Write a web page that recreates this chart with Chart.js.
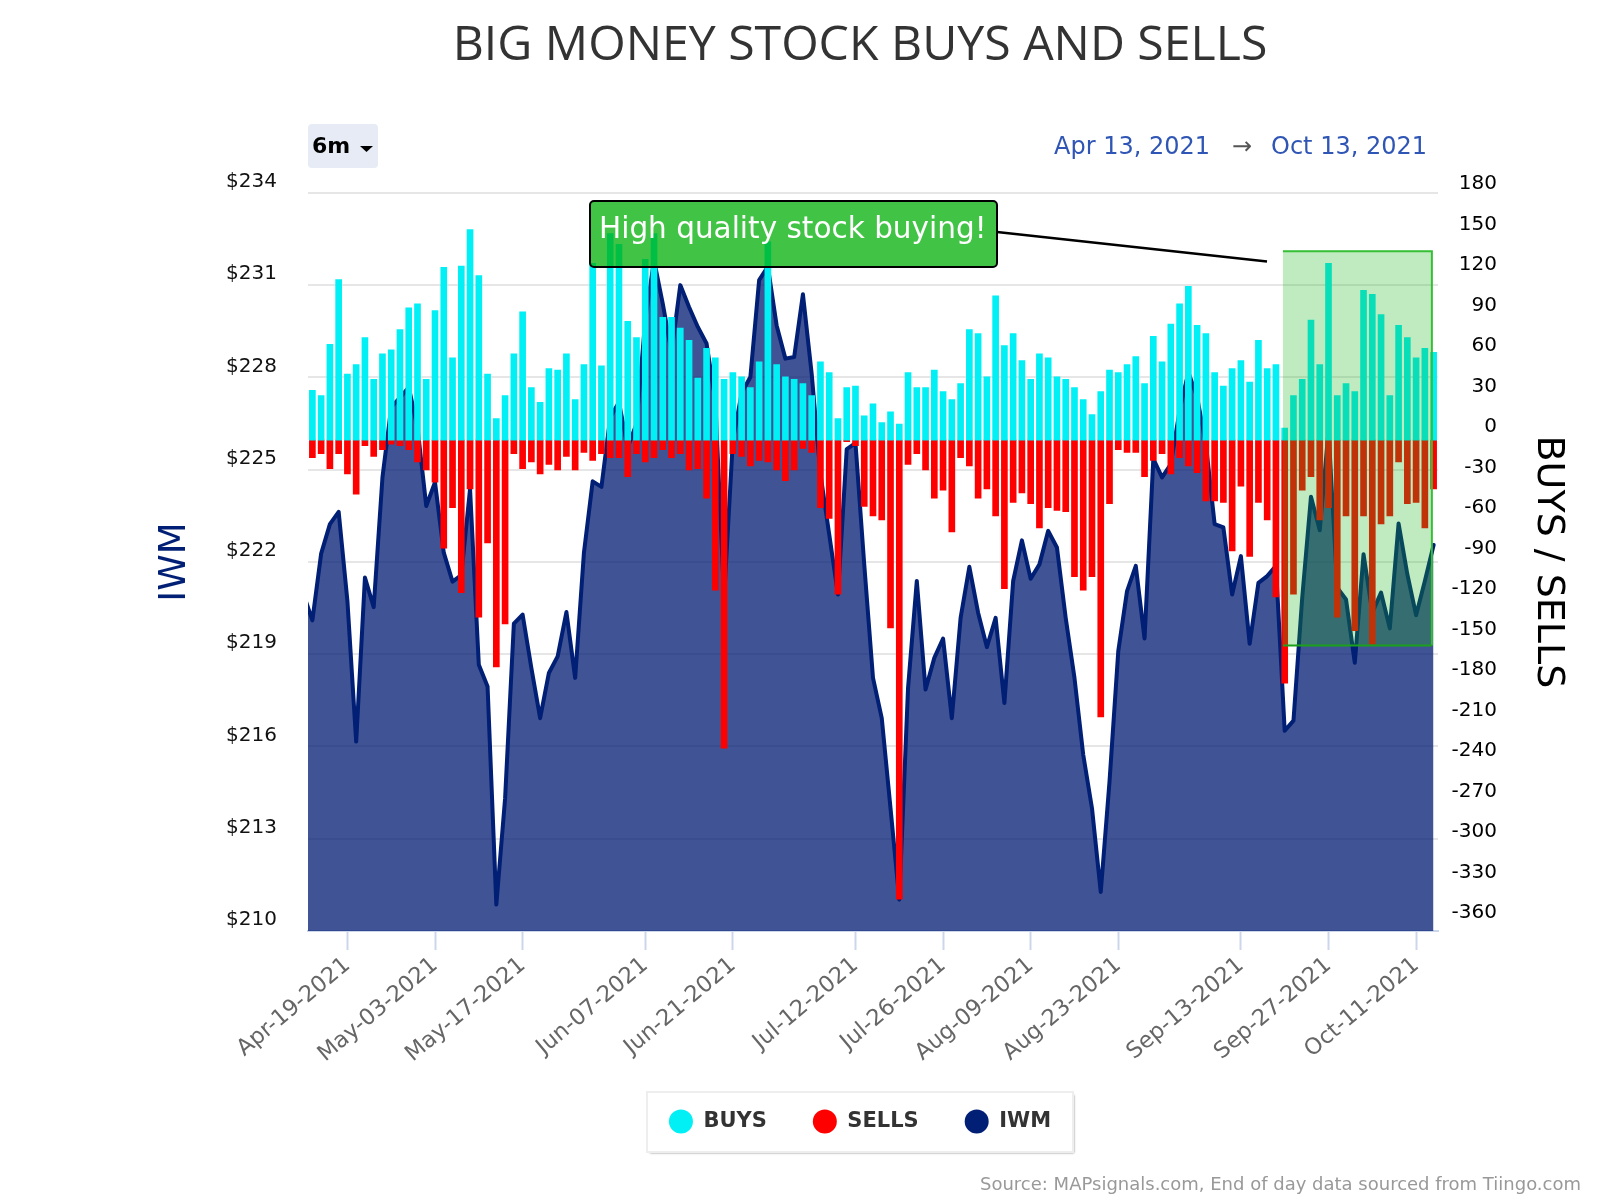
<!DOCTYPE html>
<html lang="en">
<head>
  <meta charset="UTF-8">
  <title>Big Money Stock Buys and Sells</title>
  <script src="https://cdn.jsdelivr.net/npm/chart.js"></script>
  <style>
    html, body { margin: 0; background: #fff; }
    canvas { display: block; }
  </style>
</head>
<body>
<canvas id="moneyChart" width="1600" height="1200"></canvas>

<script>
  // Trading days. Apr-12 sits just left of the visible range so the IWM line runs in from the edge
  const tradingDays = [
    'Apr-12-2021', 'Apr-13-2021', 'Apr-14-2021', 'Apr-15-2021', 'Apr-16-2021', 'Apr-19-2021', 'Apr-20-2021', 'Apr-21-2021', 'Apr-22-2021', 'Apr-23-2021',
    'Apr-26-2021', 'Apr-27-2021', 'Apr-28-2021', 'Apr-29-2021', 'Apr-30-2021', 'May-03-2021', 'May-04-2021', 'May-05-2021', 'May-06-2021', 'May-07-2021',
    'May-10-2021', 'May-11-2021', 'May-12-2021', 'May-13-2021', 'May-14-2021', 'May-17-2021', 'May-18-2021', 'May-19-2021', 'May-20-2021', 'May-21-2021',
    'May-24-2021', 'May-25-2021', 'May-26-2021', 'May-27-2021', 'May-28-2021', 'Jun-01-2021', 'Jun-02-2021', 'Jun-03-2021', 'Jun-04-2021', 'Jun-07-2021',
    'Jun-08-2021', 'Jun-09-2021', 'Jun-10-2021', 'Jun-11-2021', 'Jun-14-2021', 'Jun-15-2021', 'Jun-16-2021', 'Jun-17-2021', 'Jun-18-2021', 'Jun-21-2021',
    'Jun-22-2021', 'Jun-23-2021', 'Jun-24-2021', 'Jun-25-2021', 'Jun-28-2021', 'Jun-29-2021', 'Jun-30-2021', 'Jul-01-2021', 'Jul-02-2021', 'Jul-06-2021',
    'Jul-07-2021', 'Jul-08-2021', 'Jul-09-2021', 'Jul-12-2021', 'Jul-13-2021', 'Jul-14-2021', 'Jul-15-2021', 'Jul-16-2021', 'Jul-19-2021', 'Jul-20-2021',
    'Jul-21-2021', 'Jul-22-2021', 'Jul-23-2021', 'Jul-26-2021', 'Jul-27-2021', 'Jul-28-2021', 'Jul-29-2021', 'Jul-30-2021', 'Aug-02-2021', 'Aug-03-2021',
    'Aug-04-2021', 'Aug-05-2021', 'Aug-06-2021', 'Aug-09-2021', 'Aug-10-2021', 'Aug-11-2021', 'Aug-12-2021', 'Aug-13-2021', 'Aug-16-2021', 'Aug-17-2021',
    'Aug-18-2021', 'Aug-19-2021', 'Aug-20-2021', 'Aug-23-2021', 'Aug-24-2021', 'Aug-25-2021', 'Aug-26-2021', 'Aug-27-2021', 'Aug-30-2021', 'Aug-31-2021',
    'Sep-01-2021', 'Sep-02-2021', 'Sep-03-2021', 'Sep-07-2021', 'Sep-08-2021', 'Sep-09-2021', 'Sep-10-2021', 'Sep-13-2021', 'Sep-14-2021', 'Sep-15-2021',
    'Sep-16-2021', 'Sep-17-2021', 'Sep-20-2021', 'Sep-21-2021', 'Sep-22-2021', 'Sep-23-2021', 'Sep-24-2021', 'Sep-27-2021', 'Sep-28-2021', 'Sep-29-2021',
    'Sep-30-2021', 'Oct-01-2021', 'Oct-04-2021', 'Oct-05-2021', 'Oct-06-2021', 'Oct-07-2021', 'Oct-08-2021', 'Oct-11-2021', 'Oct-12-2021', 'Oct-13-2021'
  ];

  const dateTicks = [
    'Apr-19-2021', 'May-03-2021', 'May-17-2021', 'Jun-07-2021', 'Jun-21-2021', 'Jul-12-2021',
    'Jul-26-2021', 'Aug-09-2021', 'Aug-23-2021', 'Sep-13-2021', 'Sep-27-2021', 'Oct-11-2021'
  ];

  const buys = [
    null, 37, 33, 71, 119, 49, 56, 76, 45, 64,
    67, 82, 98, 101, 45, 96, 128, 61, 129, 156,
    122, 49, 16, 33, 64, 95, 39, 28, 53, 52,
    64, 30, 56, 131, 55, 153, 145, 88, 76, 134,
    153, 91, 91, 83, 74, 46, 68, 61, 45, 50,
    47, 39, 58, 147, 56, 47, 45, 42, 33, 58,
    50, 16, 39, 40, 18, 27, 13, 21, 12, 50,
    39, 39, 52, 36, 30, 42, 82, 79, 47, 107,
    70, 79, 59, 45, 64, 61, 47, 45, 39, 30,
    19, 36, 52, 50, 56, 62, 42, 77, 58, 86,
    101, 114, 85, 79, 50, 40, 53, 59, 43, 74,
    53, 56, 9, 33, 45, 89, 56, 131, 33, 42,
    36, 111, 108, 93, 33, 85, 76, 61, 68, 65
  ];

  const sells = [
    null, -13, -10, -21, -10, -25, -40, -4, -12, -7,
    -3, -4, -7, -16, -22, -31, -80, -50, -113, -36,
    -131, -76, -168, -136, -10, -21, -16, -25, -18, -22,
    -12, -22, -9, -15, -10, -13, -13, -27, -10, -16,
    -13, -7, -13, -10, -22, -21, -43, -111, -228, -10,
    -12, -19, -15, -16, -22, -30, -22, -6, -9, -50,
    -58, -114, -1, -4, -49, -56, -59, -139, -340, -18,
    -10, -22, -43, -37, -68, -13, -19, -43, -36, -56,
    -110, -46, -39, -47, -65, -50, -52, -53, -101, -111,
    -101, -205, -47, -7, -9, -9, -27, -15, -10, -25,
    -13, -19, -24, -45, -45, -46, -82, -34, -86, -46,
    -59, -116, -180, -114, -37, -27, -59, -50, -131, -56,
    -141, -56, -151, -62, -56, -16, -47, -46, -65, -36
  ];

  const iwmCloses = [
    220.94, 220.10, 222.27, 223.23, 223.63, 220.73, 216.16, 221.49, 220.53, 224.75,
    227.03, 227.34, 227.68, 226.38, 223.82, 224.59, 222.30, 221.36, 221.57, 224.37,
    218.66, 217.95, 210.86, 214.31, 219.99, 220.29, 218.55, 216.92, 218.39, 218.93,
    220.37, 218.23, 222.30, 224.62, 224.44, 226.70, 227.19, 225.73, 226.49, 229.86,
    231.81, 230.40, 228.82, 231.00, 230.29, 229.64, 229.10, 227.25, 220.83, 225.94,
    227.49, 228.01, 231.16, 231.60, 229.69, 228.61, 228.66, 230.70, 228.12, 224.86,
    222.90, 220.94, 225.67, 225.86, 221.92, 218.23, 216.92, 213.99, 211.02, 217.90,
    221.38, 217.85, 218.88, 219.51, 216.92, 220.18, 221.84, 220.35, 219.23, 220.18,
    217.41, 221.38, 222.70, 221.45, 221.92, 223.01, 222.47, 220.18, 218.23, 215.73,
    213.99, 211.27, 214.86, 219.10, 221.05, 221.87, 219.51, 225.35, 224.75, 225.18,
    226.92, 228.17, 227.36, 225.84, 223.23, 223.12, 220.94, 222.19, 219.34, 221.32,
    221.54, 221.87, 216.51, 216.84, 220.84, 224.12, 223.03, 226.27, 221.16, 220.78,
    218.72, 222.25, 220.35, 221.00, 219.84, 223.25, 221.60, 220.27, 221.38, 222.55
  ];

  // Everything the library has no element for: legend frame, header, callout, source line
  const overlays = {
    id: 'overlays',
    beforeDraw(chart) {
      const ctx = chart.ctx;
      ctx.save();
      ctx.shadowColor = 'rgba(0,0,0,0.5)';
      ctx.shadowBlur = 2;
      ctx.shadowOffsetX = 2;
      ctx.shadowOffsetY = 2;
      ctx.fillStyle = '#fff';
      ctx.fillRect(648, 1093, 424, 58);
      ctx.restore();
      ctx.strokeStyle = '#eee';
      ctx.lineWidth = 2;
      ctx.strokeRect(647, 1092, 426, 60);

      // range dropdown
      ctx.fillStyle = '#e6ebf5';
      ctx.beginPath();
      ctx.roundRect(308, 124, 70, 44, 4);
      ctx.fill();
      ctx.fillStyle = '#000';
      ctx.font = 'bold 22px "DejaVu Sans"';
      ctx.textAlign = 'left';
      ctx.textBaseline = 'middle';
      ctx.fillText('6m', 312, 147);
      ctx.beginPath();
      ctx.moveTo(360, 146);
      ctx.lineTo(373, 146);
      ctx.lineTo(366.5, 152);
      ctx.fill();

      // date range
      ctx.fillStyle = '#2f55b5';
      ctx.font = '24px "DejaVu Sans"';
      ctx.textAlign = 'right';
      ctx.fillText('Oct 13, 2021', 1427, 148);
      ctx.fillStyle = '#555';
      ctx.fillText('\u2192', 1252, 148);
      ctx.fillStyle = '#2f55b5';
      ctx.fillText('Apr 13, 2021', 1210, 148);

      // source
      ctx.fillStyle = '#999';
      ctx.font = '18px "DejaVu Sans"';
      ctx.fillText('Source: MAPsignals.com, End of day data sourced from Tiingo.com', 1581, 1185);
    },
    afterDatasetsDraw(chart) {
      const ctx = chart.ctx;
      const x = chart.scales.x;
      const y = chart.scales.right;

      // highlighted window, in data terms: trading-day index and buys/sells value
      const left = x.getPixelForValue(111.8);
      const right = x.getPixelForValue(128.8);
      const top = y.getPixelForValue(140);
      const bottom = y.getPixelForValue(-152);
      ctx.fillStyle = 'rgba(30,180,25,0.28)';
      ctx.fillRect(left, top, right - left, bottom - top);
      ctx.strokeStyle = '#34bf34';
      ctx.lineWidth = 2;
      ctx.beginPath();
      ctx.moveTo(left, top);
      ctx.lineTo(right, top);
      ctx.lineTo(right, bottom);
      ctx.stroke();
      ctx.strokeStyle = '#1ba11b';
      ctx.beginPath();
      ctx.moveTo(left, bottom);
      ctx.lineTo(right, bottom);
      ctx.stroke();

      // callout
      ctx.strokeStyle = '#000';
      ctx.lineWidth = 2.5;
      ctx.beginPath();
      ctx.moveTo(997, 232);
      ctx.lineTo(1267, 261.5);
      ctx.stroke();
      ctx.fillStyle = 'rgba(0,175,7,0.745)';
      ctx.beginPath();
      ctx.roundRect(590, 201, 407, 66, 4);
      ctx.fill();
      ctx.lineWidth = 2;
      ctx.stroke();
      ctx.fillStyle = '#fff';
      ctx.font = '29.5px "DejaVu Sans"';
      ctx.textAlign = 'left';
      ctx.textBaseline = 'middle';
      ctx.fillText('High quality stock buying!', 599, 230);
    }
  };

  new Chart(document.getElementById('moneyChart'), {
    type: 'bar',
    plugins: [overlays],
    data: {
      labels: tradingDays,
      datasets: [
        { label: 'BUYS', data: buys, yAxisID: 'right', backgroundColor: '#00f0f5', barThickness: 6, grouped: false, order: 1 },
        { label: 'SELLS', data: sells, yAxisID: 'right', backgroundColor: '#ff0000', barThickness: 6, grouped: false, order: 1 },
        {
          label: 'IWM', type: 'line', data: iwmCloses, yAxisID: 'left', order: 2,
          borderColor: '#001f75', backgroundColor: '#001f75', borderWidth: 4,
          borderJoinStyle: 'round', borderCapStyle: 'round',
          pointRadius: 0, tension: 0,
          fill: { target: 'start', above: 'rgba(0,26,112,0.75)' }
        }
      ]
    },
    options: {
      responsive: false,
      devicePixelRatio: 1,
      animation: false,
      layout: { padding: { left: 139, right: 19, top: 0, bottom: 58 } },
      font: { family: '"DejaVu Sans"' },
      plugins: {
        tooltip: { enabled: false },
        title: {
          display: true,
          text: 'BIG MONEY STOCK BUYS AND SELLS',
          color: '#333',
          font: { family: '"Open Sans"', size: 48.2, weight: 'normal', lineHeight: 1.2 },
          padding: { top: 17, bottom: 118 }
        },
        legend: {
          position: 'bottom',
          labels: {
            usePointStyle: true,
            boxHeight: 17,
            boxWidth: 24,
            pointStyleWidth: 24,
            padding: 46,
            color: '#333',
            font: { family: '"DejaVu Sans"', size: 21, weight: 'bold' },
            // plain dots: no outline from the line dataset's border
            generateLabels: chart => Chart.defaults.plugins.legend.labels.generateLabels(chart)
              .map(item => ({ ...item, lineWidth: 0 }))
          }
        }
      },
      scales: {
        x: {
          min: 1,
          offset: true,
          afterBuildTicks: s => { s.ticks = s.ticks.filter(t => dateTicks.includes(tradingDays[t.value])); },
          afterFit: s => { s.height = 134; },
          grid: { drawOnChartArea: false, offset: false, tickLength: 19, tickColor: '#ccd6eb', tickWidth: 2 },
          border: { color: '#ccd6eb', width: 2 },
          ticks: {
            autoSkip: false, maxRotation: 40, minRotation: 40, padding: 2, color: '#666',
            font: { size: 22.5 }
          }
        },
        left: {
          position: 'left',
          min: 210,
          max: 234,
          afterFit: s => { s.width = 169; },
          grid: { color: '#e6e6e6', lineWidth: 2, drawTicks: false },
          border: { display: false },
          title: {
            display: true, text: 'IWM', color: '#001f75',
            font: { size: 37, lineHeight: 1.2 }, padding: { top: 14, bottom: 0 }
          },
          // the blank second line lifts each label above its gridline
          ticks: {
            stepSize: 3, padding: 31, color: '#111',
            font: { size: 20, lineHeight: 1.1 },
            callback: v => ['$' + v, '']
          }
        },
        right: {
          position: 'right',
          min: -363.5,
          max: 183.2,
          afterFit: s => { s.width = 143; },
          grid: { display: false },
          border: { display: false },
          title: {
            display: true, text: 'BUYS / SELLS', color: '#000',
            font: { size: 38, lineHeight: 1.2 }, padding: { top: 10, bottom: 0 }
          },
          // mirror + padding gives right-aligned labels at a set distance from the plot
          ticks: {
            stepSize: 30, includeBounds: false, autoSkip: false, mirror: true, padding: 59, color: '#000',
            font: { size: 20, lineHeight: 1.3 },
            callback: v => [String(v), '']
          }
        }
      }
    }
  });
</script>
</body>
</html>
